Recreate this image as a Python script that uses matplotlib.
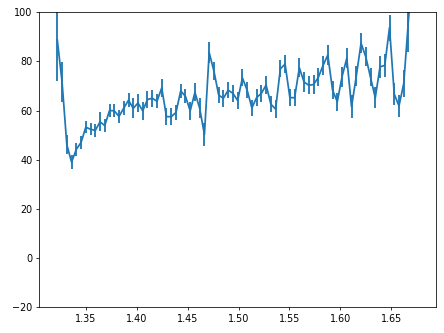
import numpy as np
from matplotlib import pyplot as plt

# measured spectrum, evenly spaced in x
n_points = 77
x = np.linspace(1.3219, 1.6764, n_points)

y = [88.7, 71.6, 46.1, 39.0, 44.2, 47.0, 53.2, 52.4, 51.9, 55.4,
     53.9, 60.0, 59.9, 57.6, 61.0, 64.2, 60.9, 63.1, 59.9, 64.5,
     65.0, 63.8, 69.2, 57.5, 57.5, 59.2, 68.0, 65.8, 59.9, 67.4,
     60.9, 50.2, 83.6, 76.1, 66.3, 65.0, 68.3, 67.0, 64.1, 73.3,
     68.3, 61.1, 65.3, 67.0, 70.4, 62.6, 60.6, 77.0, 78.9, 65.3,
     65.2, 77.4, 71.6, 70.3, 70.6, 73.5, 78.4, 82.6, 68.3, 63.6,
     73.8, 81.3, 61.5, 74.0, 87.4, 81.9, 73.5, 65.2, 77.8, 78.4,
     93.8, 66.7, 61.9, 71.0, 97.0, 120.0, 132.0]

yerr = [16.5, 8.3, 3.9, 2.9, 2.7, 2.5, 2.5, 2.4, 2.6, 3.9,
        2.5, 2.6, 2.6, 2.6, 2.8, 2.9, 4.1, 3.6, 3.7, 3.6,
        3.4, 2.9, 3.6, 3.4, 3.4, 3.1, 3.0, 2.9, 3.7, 3.7,
        4.1, 4.6, 4.4, 3.7, 3.4, 3.4, 3.3, 3.4, 3.6, 3.5,
        3.3, 3.2, 3.4, 3.4, 3.7, 3.3, 3.7, 3.5, 3.7, 3.4,
        3.5, 3.8, 3.9, 3.7, 3.9, 3.7, 3.8, 4.1, 3.7, 3.7,
        4.1, 4.0, 4.7, 4.0, 4.0, 3.8, 3.7, 4.3, 4.5, 4.6,
        5.3, 4.4, 4.4, 5.4, 13.0, 15.0, 18.0]

fig = plt.figure(figsize=(6.4, 4.8), dpi=69.375)
plt.subplots_adjust(left=0.0885, right=0.982, top=0.963, bottom=0.078)
plt.errorbar(x, y, yerr=yerr, linewidth=1.8, elinewidth=1.9)
plt.ylim(-20, 100)

plt.savefig('out.png', dpi=69.375)
